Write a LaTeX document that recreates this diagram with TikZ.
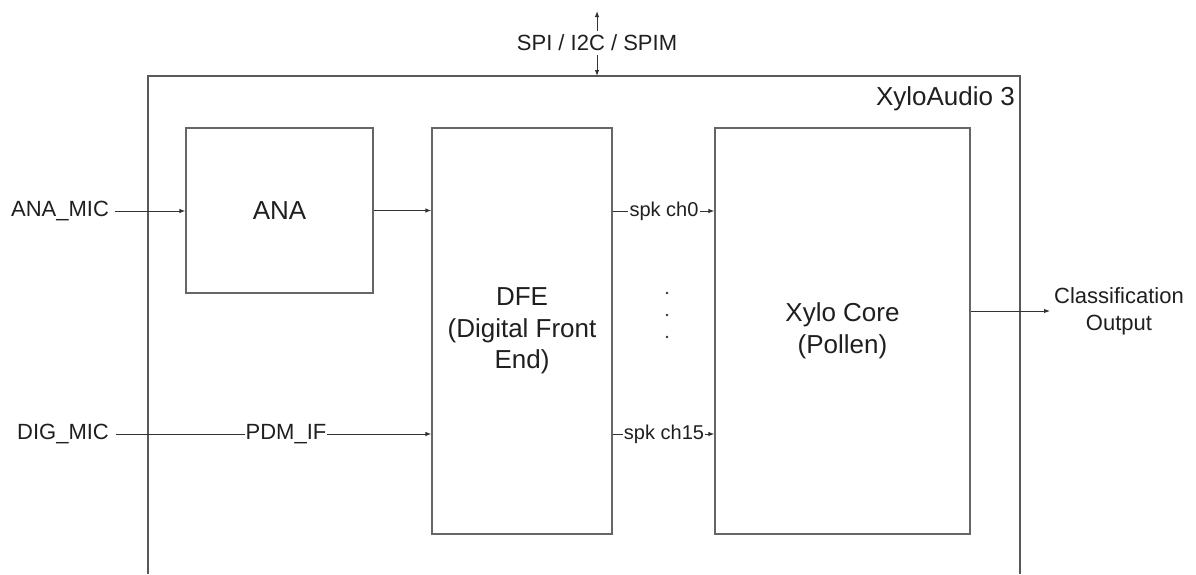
\documentclass[tikz,border=0pt]{standalone}
\usepackage{fontspec}
\setmainfont{Liberation Sans}
\usetikzlibrary{arrows.meta}
\begin{document}
\begin{tikzpicture}[x=1pt,y=-1pt,
  box/.style={draw=black!60, line width=1.2pt, rectangle, inner sep=0pt, text=black!88, align=center},
  lbl/.style={text=black!88, align=center},
  conn/.style={draw=black!80, line width=1pt},
  arr/.style={conn, -{Latex[length=6pt,width=4.5pt]}},
  big/.style={font=\fontsize{26}{31.5}\selectfont},
  mid/.style={font=\fontsize{22}{27}\selectfont},
  small/.style={font=\fontsize{20}{24}\selectfont}]
\useasboundingbox (0,0) rectangle (1196,574);
% outer chip outline (open at bottom)
\coordinate (olb) at (148,574);
\coordinate (olt) at (148,76);
\coordinate (ort) at (1020,76);
\coordinate (orb) at (1020,574);
\draw[draw=black!65, line width=1.2pt] (olb) -- (olt) -- (ort) -- (orb);
\node[lbl, big, anchor=base east, inner sep=0pt] (chip) at (1015,105) {XyloAudio 3};
% blocks
\node[box, big, minimum width=187pt, minimum height=165pt] (ana) at (279.5,210.5) {ANA};
\node[box, big, minimum width=180pt, minimum height=406pt] (dfe) at (522,331) {DFE\\(Digital Front\\End)};
\node[box, big, minimum width=255pt, minimum height=406pt] (core) at (842.5,331) {Xylo Core\\(Pollen)};
% bus
\node[lbl, mid] (spi) at (597,43) {SPI / I2C / SPIM};
\coordinate (spiup) at (597,11);
\coordinate (spidn) at (597,76);
\draw[arr] (spi.north) -- (spiup);
\draw[arr] (spi.south) -- (spidn);
% inputs
\node[lbl, mid] (anamic) at (60,211) {ANA\_MIC};
\node[lbl, mid] (digmic) at (63,434) {DIG\_MIC};
\draw[arr, shorten <=2.5pt] (anamic.east) -- (ana.west |- anamic.east);
\draw[arr] (ana.east) -- (dfe.west |- ana.east);
\node[lbl, mid, inner sep=0.5pt] (pdm) at (286,434) {PDM\_IF};
\draw[conn, shorten <=4pt] (digmic.east) -- (pdm.west);
\draw[arr] (pdm.east) -- (dfe.west |- pdm.east);
% spike channels
\node[lbl, small, inner sep=1pt, fill=white] (ch0) at (664,211) {spk ch0};
\node[lbl, small, inner sep=1pt, fill=white] (ch15) at (664,434) {spk ch15};
\draw[conn] (dfe.east |- ch0.west) -- (ch0.west);
\draw[arr] (ch0.east) -- (core.west |- ch0.east);
\draw[conn] (dfe.east |- ch15.west) -- (ch15.west);
\draw[arr] (ch15.east) -- (core.west |- ch15.east);
\fill[black!80] (667,293) circle (1.4pt) (667,315) circle (1.4pt) (667,337) circle (1.4pt);
% output
\node[lbl, mid, anchor=west, inner sep=0pt] (out) at (1054,311) {Classification\\Output};
\coordinate (outtip) at (1050,311);
\draw[arr] (core.east |- out.west) -- (outtip);
\end{tikzpicture}
\end{document}
